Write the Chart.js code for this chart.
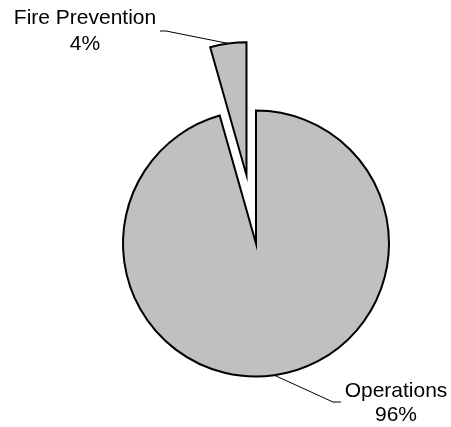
<!DOCTYPE html>
<html><head><meta charset="utf-8">
<script src="https://cdn.jsdelivr.net/npm/chart.js@4"></script>
<style>html,body{margin:0;padding:0;background:#fff}canvas{display:block}</style>
</head><body>
<canvas id="c" width="451" height="427"></canvas>
<script>
// ---- data ----
const categories = ['Operations', 'Fire Prevention'];
const values = [95.6, 4.4];
const explodedIndex = 1;

const total = values.reduce((a, b) => a + b, 0);
const percentLabels = values.map(v => Math.round(v / total * 100) + '%');

// ---- layout (not data) ----
const EXPLODE_PX = 69;
const FONT = '21px "Liberation Sans", Arial, sans-serif';
const labelLayout = [
  { elbow: { x: 333, y: 402 }, end: { x: 341, y: 402 }, text: { x: 396, y: 397 }, lineGap: 24 },
  { elbow: { x: 166, y: 31 }, end: { x: 160, y: 31 }, text: { x: 85, y: 24 }, lineGap: 26 }
];

const explodePlugin = {
  id: 'explode',
  afterDatasetUpdate(chart, args) {
    const arc = args.meta.data[explodedIndex];
    if (!arc) return;
    const mid = (arc.startAngle + arc.endAngle) / 2;
    arc.x += Math.cos(mid) * EXPLODE_PX;
    arc.y += Math.sin(mid) * EXPLODE_PX;
  }
};

const labelPlugin = {
  id: 'pieLabels',
  afterDatasetsDraw(chart) {
    const ctx = chart.ctx;
    const meta = chart.getDatasetMeta(0);
    ctx.save();
    meta.data.forEach((arc, i) => {
      const L = labelLayout[i];
      const mid = (arc.startAngle + arc.endAngle) / 2;
      const ax = arc.x + Math.cos(mid) * arc.outerRadius;
      const ay = arc.y + Math.sin(mid) * arc.outerRadius;
      ctx.beginPath();
      ctx.strokeStyle = '#000';
      ctx.lineWidth = 1;
      ctx.moveTo(ax, ay);
      ctx.lineTo(L.elbow.x, L.elbow.y);
      ctx.lineTo(L.end.x, L.end.y);
      ctx.stroke();
      ctx.fillStyle = '#000';
      ctx.font = FONT;
      ctx.textAlign = 'center';
      ctx.textBaseline = 'alphabetic';
      ctx.fillText(chart.data.labels[i], L.text.x, L.text.y);
      ctx.fillText(percentLabels[i], L.text.x, L.text.y + L.lineGap);
    });
    ctx.restore();
  }
};

new Chart(document.getElementById('c'), {
  type: 'pie',
  data: {
    labels: categories,
    datasets: [{
      data: values,
      backgroundColor: '#c0c0c0',
      borderColor: '#000',
      borderWidth: 2,
      borderJoinStyle: 'miter'
    }]
  },
  options: {
    responsive: false,
    animation: false,
    radius: 133,
    layout: { padding: { left: 61, right: 0, top: 60, bottom: 0 } },
    plugins: { legend: { display: false }, tooltip: { enabled: false } },
    events: []
  },
  plugins: [explodePlugin, labelPlugin]
});
</script>
</body></html>
